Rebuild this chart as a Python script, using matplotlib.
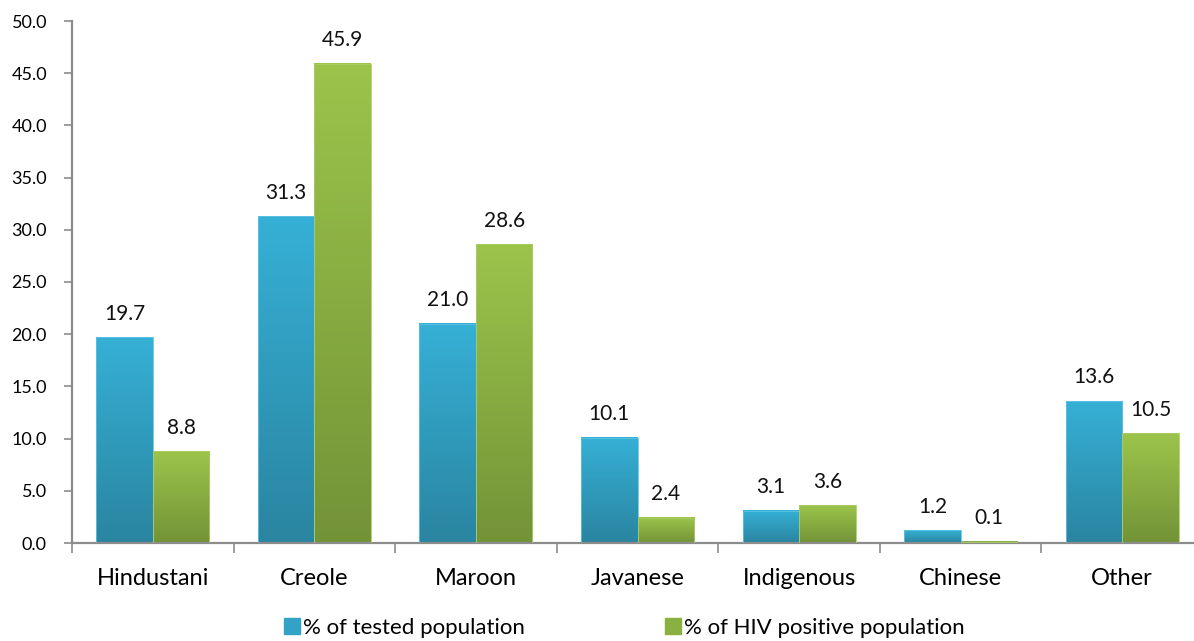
import numpy as np
import matplotlib
matplotlib.use("Agg")
import matplotlib.pyplot as plt
from matplotlib.colors import LinearSegmentedColormap
from matplotlib.lines import Line2D
from matplotlib.patches import Rectangle

categories = ["Hindustani", "Creole", "Maroon", "Javanese", "Indigenous", "Chinese", "Other"]
tested = [19.7, 31.3, 21.0, 10.1, 3.1, 1.2, 13.6]
hiv_positive = [8.8, 45.9, 28.6, 2.4, 3.6, 0.1, 10.5]
series_names = ["% of tested population", "% of HIV positive population"]
y_ticks = [0, 5, 10, 15, 20, 25, 30, 35, 40, 45, 50]

plt.rcParams["font.family"] = ["Lato", "DejaVu Sans"]

fig = plt.figure(figsize=(11.94, 6.41), dpi=100)
ax = fig.add_axes([72 / 1194, 98 / 641, 1131 / 1194, 522 / 641])

blue_cmap = LinearSegmentedColormap.from_list("blue", ["#2A85A0", "#36B0D6"])
green_cmap = LinearSegmentedColormap.from_list("green", ["#739337", "#9CC44B"])

width = 0.35
x = np.arange(len(categories))
grad = np.linspace(0, 1, 256).reshape(-1, 1)

def draw_bars(xs, vals, cmap, edge):
    for xi, v in zip(xs, vals):
        left = xi - width / 2
        ax.imshow(grad, cmap=cmap, aspect="auto", origin="lower",
                  extent=(left, left + width, 0, v), zorder=2,
                  vmin=0, vmax=1)
        ax.add_patch(Rectangle((left, 0), width, v, fill=False,
                               edgecolor=edge, linewidth=0.6, zorder=3))
        ax.text(xi, v + 1.3, f"{v:.1f}", ha="center", va="bottom",
                fontsize=15, color="#111111", zorder=4)

draw_bars(x - width / 2, tested, blue_cmap, "#5EC3E2")
draw_bars(x + width / 2, hiv_positive, green_cmap, "#A9CD62")

ax.set_xlim(-0.5, len(categories) - 0.5)
ax.set_ylim(0, 50)
ax.set_yticks(y_ticks)
ax.set_yticklabels([f"{t:.1f}" for t in y_ticks], fontsize=13)

ax.set_xticks(x)
ax.set_xticklabels(categories, fontsize=17)
ax.tick_params(axis="x", which="major", length=0, pad=18)
ax.set_xticks(np.arange(-0.5, len(categories), 1), minor=True)
ax.tick_params(axis="x", which="minor", length=7, width=1.2, color="#8C8C8C",
               direction="out")
ax.tick_params(axis="y", length=6, width=1.2, color="#8C8C8C", pad=12)

for s in ["top", "right"]:
    ax.spines[s].set_visible(False)
for s in ["left", "bottom"]:
    ax.spines[s].set_color("#8C8C8C")
    ax.spines[s].set_linewidth(1.6)

handles = [
    Line2D([], [], marker="s", linestyle="none", markersize=12,
           markerfacecolor="#32A3C6", markeredgecolor="#32A3C6"),
    Line2D([], [], marker="s", linestyle="none", markersize=12,
           markerfacecolor="#8AB042", markeredgecolor="#8AB042"),
]
fig.legend(handles, series_names, loc="center", bbox_to_anchor=(0.522, 0.02),
           ncol=2, frameon=False, fontsize=16, handletextpad=0.05,
           columnspacing=6.2, handlelength=0.9)

fig.savefig("out.png", dpi=100)
